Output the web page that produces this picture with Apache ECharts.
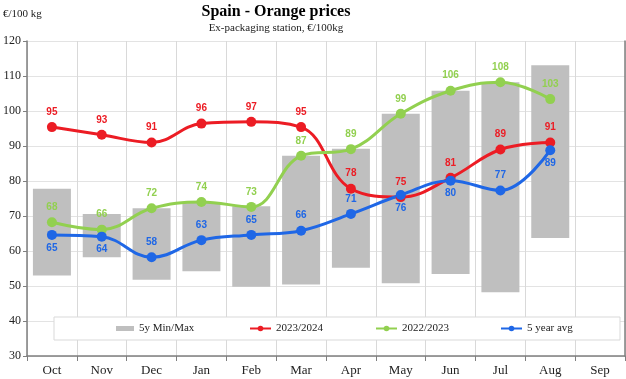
<!DOCTYPE html>
<html>
<head>
<meta charset="utf-8">
<script src="https://cdn.jsdelivr.net/npm/echarts@6/dist/echarts.min.js"></script>
<style>html,body{margin:0;padding:0;background:#fff}#c{width:626px;height:379px}</style>
</head>
<body>
<div id="c"></div>
<script>
const months = ['Oct','Nov','Dec','Jan','Feb','Mar','Apr','May','Jun','Jul','Aug','Sep'];
const yTicks = [30,40,50,60,70,80,90,100,110,120];
const range5yMin = [53.0, 58.2, 51.8, 54.2, 49.8, 50.4, 55.2, 50.8, 53.4, 48.2, 63.7];
const range5yMax = [77.8, 70.6, 72.2, 74.0, 72.8, 87.2, 89.2, 99.2, 105.8, 108.2, 113.1];
const season2324 = [95.4, 93.2, 91.0, 96.4, 96.9, 95.4, 77.8, 75.4, 80.9, 89.0, 91.0];
const season2223 = [68.2, 66.1, 72.2, 74.0, 72.6, 87.2, 89.1, 99.2, 105.8, 108.2, 103.4];
const avg5y = [64.6, 64.1, 58.2, 63.1, 64.6, 65.8, 70.6, 76.0, 80.1, 77.3, 88.8];

const avgLabelPos = ['bottom','bottom','top','top','top','top','top','bottom','bottom','top','bottom'];

const RED = '#ec1c24', GREEN = '#92d050', BLUE = '#1f67e6', GRAY = '#bfbfbf';
const serif = '"Liberation Serif", "DejaVu Serif", serif';
const sans = '"Liberation Sans", Arial, sans-serif';

function lineSeries(name, data, color, positions) {
  return {
    name: name, type: 'line', data: data.map((v, i) => ({
      value: v,
      label: { position: positions ? positions[i] : 'top', distance: positions && positions[i] === 'bottom' ? 3 : 5 }
    })),
    smooth: 0.4, symbol: 'circle', symbolSize: 10,
    lineStyle: { color: color, width: 3 },
    itemStyle: { color: color },
    label: { show: true, color: color, fontFamily: sans, fontWeight: 'bold', fontSize: 10,
      formatter: p => String(Math.round(p.value)) },
    emphasis: { disabled: true }, z: 3
  };
}

const legendBase = { top: 323, padding: 0, textStyle: { fontFamily: serif, fontSize: 11, color: '#222' }, selectedMode: false, z: 10 };

const option = {
  animation: false,
  backgroundColor: '#fff',
  graphic: [
    { type: 'text', x: 3, y: 9, z: 10, style: { text: '€/100 kg', font: '11px ' + serif, fill: '#222' } },
    { type: 'text', x: 276, y: 4, z: 10, style: { text: 'Spain - Orange prices', font: 'bold 16px ' + serif, fill: '#000', textAlign: 'center' } },
    { type: 'text', x: 276, y: 23, z: 10, style: { text: 'Ex-packaging station, €/100kg', font: '11px ' + serif, fill: '#222', textAlign: 'center' } },
    { type: 'rect', z: 5, shape: { x: 54, y: 317, width: 566, height: 23 }, style: { fill: '#fff', stroke: '#d9d9d9', lineWidth: 1 } }
  ],
  legend: [
    Object.assign({}, legendBase, { left: 116, data: ['5y Min/Max'], icon: 'rect', itemWidth: 18, itemHeight: 5, itemGap: 4 }),
    Object.assign({}, legendBase, { left: 249, data: ['2023/2024'], itemWidth: 21, itemHeight: 7 }),
    Object.assign({}, legendBase, { left: 375, data: ['2022/2023'], itemWidth: 21, itemHeight: 7 }),
    Object.assign({}, legendBase, { left: 500, data: ['5 year avg'], itemWidth: 21, itemHeight: 7 })
  ],
  grid: { left: 24, right: 1, top: 41, bottom: 23, containLabel: false },
  xAxis: {
    type: 'category', data: months, boundaryGap: true,
    axisLine: { lineStyle: { color: '#7f7f7f', width: 1.5 } },
    axisTick: { show: true, length: 5, lineStyle: { color: '#7f7f7f' } },
    axisLabel: { fontFamily: serif, fontSize: 13, color: '#222', margin: 8 },
    splitLine: { show: true, lineStyle: { color: '#d9d9d9' } }
  },
  yAxis: [{
    type: 'value', min: yTicks[0], max: yTicks[yTicks.length - 1], interval: 10,
    axisLine: { show: true, lineStyle: { color: '#7f7f7f', width: 1.5 } },
    axisTick: { show: true, length: 4, lineStyle: { color: '#7f7f7f' } },
    axisLabel: { fontFamily: serif, fontSize: 12, color: '#222', margin: 6 },
    splitLine: { show: true, lineStyle: { color: '#e3e3e3' } }
  }, {
    type: 'value', position: 'right', min: yTicks[0], max: yTicks[yTicks.length - 1], interval: 10,
    axisLine: { show: true, lineStyle: { color: '#7f7f7f', width: 1.5 } },
    axisTick: { show: false }, axisLabel: { show: false }, splitLine: { show: false }
  }],
  series: [
    { name: 'base', type: 'bar', stack: 'mm', data: range5yMin, barWidth: 38,
      itemStyle: { color: 'rgba(0,0,0,0)' }, silent: true, emphasis: { disabled: true }, z: 1 },
    { name: '5y Min/Max', type: 'bar', stack: 'mm', data: range5yMax.map((v, i) => +(v - range5yMin[i]).toFixed(1)), barWidth: 38,
      itemStyle: { color: GRAY }, emphasis: { disabled: true }, z: 1 },
    lineSeries('2023/2024', season2324, RED),
    lineSeries('2022/2023', season2223, GREEN),
    lineSeries('5 year avg', avg5y, BLUE, avgLabelPos)
  ]
};
echarts.init(document.getElementById('c'), null, { renderer: 'canvas' }).setOption(option);
</script>
</body>
</html>
